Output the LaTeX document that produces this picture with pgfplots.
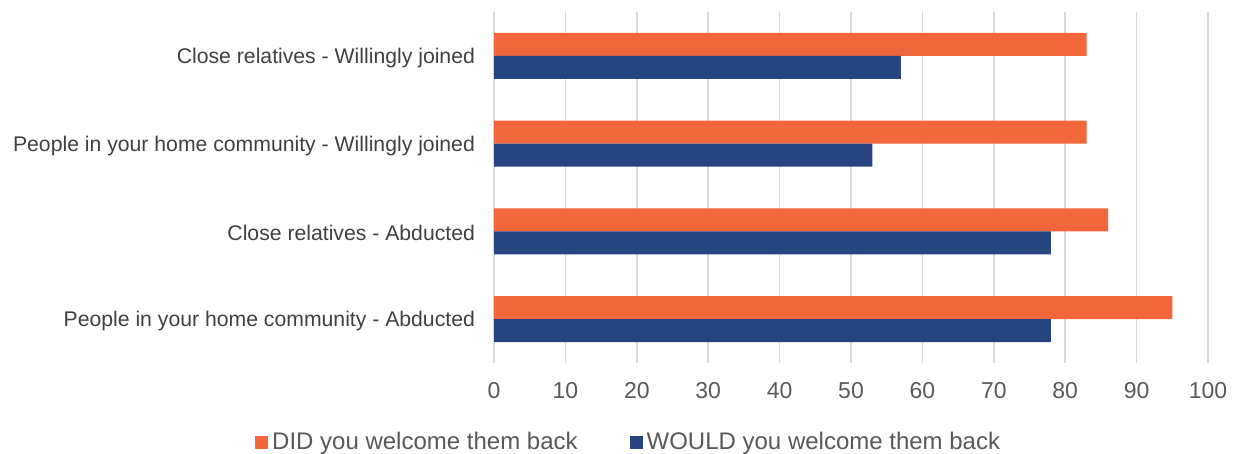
\documentclass[border=0pt]{standalone}
\usepackage{pgfplots}
\pgfplotsset{compat=1.18}
\usepackage{fontspec}
\setmainfont{Liberation Sans}
\definecolor{didc}{HTML}{F1663A}
\definecolor{wouldc}{HTML}{264580}
\definecolor{gridc}{HTML}{D9D9D9}
\definecolor{tickc}{HTML}{595959}
\definecolor{labc}{HTML}{404040}
\begin{document}
\begin{tikzpicture}
\useasboundingbox (0,0) rectangle (617.5pt,227pt);
\begin{axis}[
  at={(247pt,45.5pt)}, anchor=south west,
  scale only axis, width=357pt, height=175.5pt,
  xbar=0pt, bar width=11.5pt,
  xmin=0, xmax=100, ymin=-0.5, ymax=3.5,
  y dir=reverse,
  xtick={0,10,...,100},
  ytick={0,1,2,3},
  yticklabels={Close relatives - Willingly joined, People in your home community - Willingly joined, Close relatives - Abducted, People in your home community - Abducted},
  axis line style={draw=none},
  major tick length=0pt,
  xmajorgrids, grid style={gridc, line width=0.8pt},
  xticklabel style={font=\fontsize{11.5}{13}\selectfont, text=tickc, yshift=-6pt},
  yticklabel style={font=\fontsize{10.6}{12}\selectfont, text=labc, xshift=-6pt, yshift=-1pt},
  /pgf/number format/assume math mode=true,
  legend style={at={(0.19,-0.226)}, anchor=center, draw=none, legend columns=2,
    font=\fontsize{12}{14}\selectfont, text=tickc,
    /tikz/every even column/.append style={column sep=24pt}},
  legend image code/.code={\fill[#1] (0pt,-3.25pt) rectangle (6.5pt,3.25pt);},
  legend cell align=left,
]
\addplot[fill=didc, draw=none, bar shift=5.75pt] coordinates {(83,0) (83,1) (86,2) (95,3)};
\addplot[fill=wouldc, draw=none, bar shift=-5.75pt] coordinates {(57,0) (53,1) (78,2) (78,3)};
\legend{DID you welcome them back, WOULD you welcome them back}
\end{axis}
\end{tikzpicture}
\end{document}
